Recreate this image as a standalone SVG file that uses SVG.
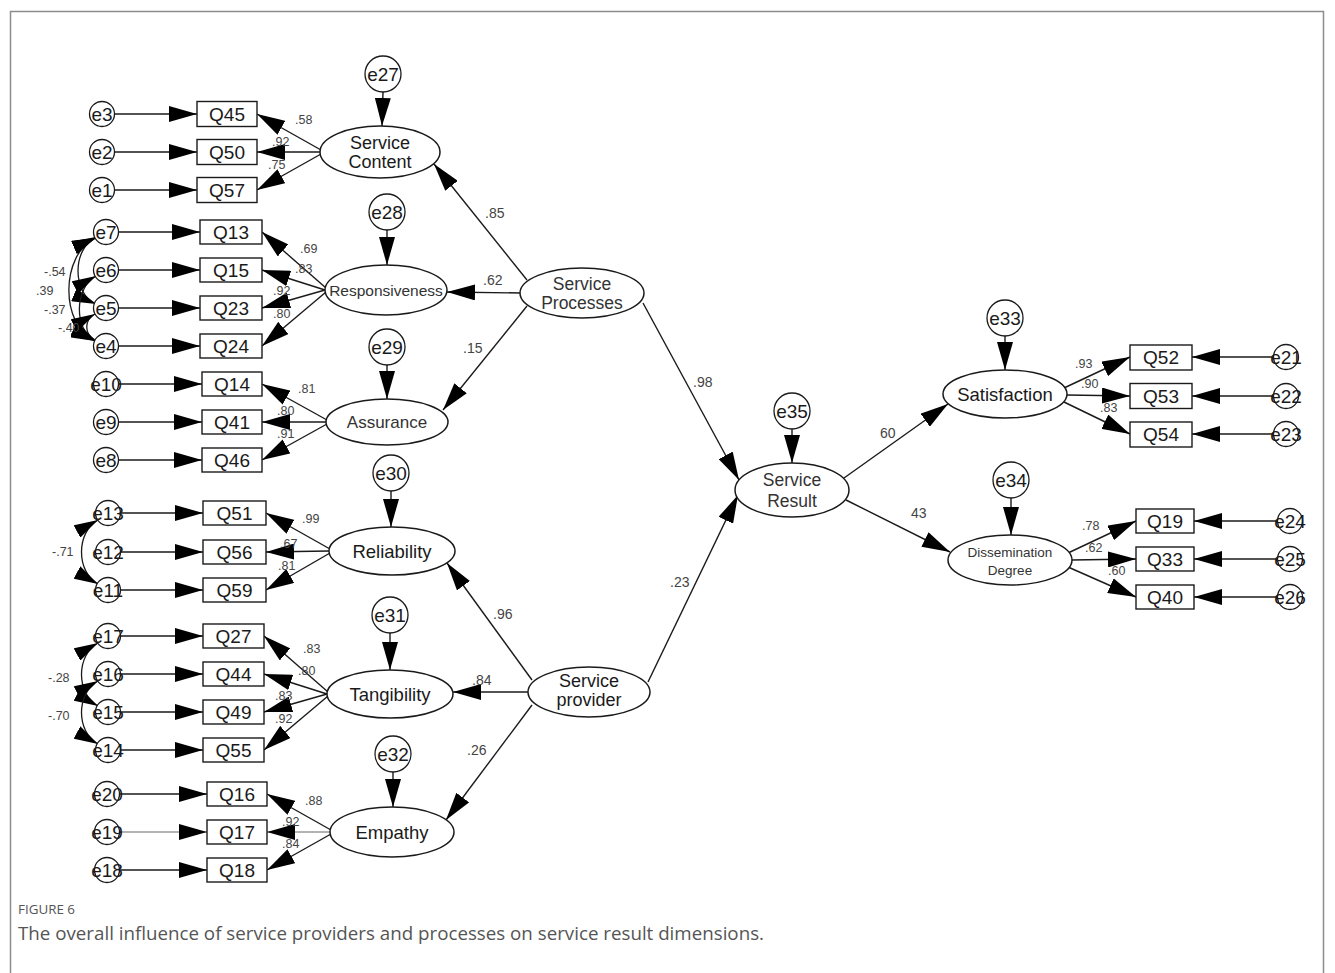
<svg xmlns="http://www.w3.org/2000/svg" width="1335" height="973" viewBox="0 0 1335 973">
<style>
.frame{fill:none;stroke:#8c8c8c;stroke-width:1.5}
.ln{stroke:#1a1a1a;stroke-width:1.4;fill:none;marker-end:url(#ah)}
.lg{stroke:#9a9a9a;stroke-width:1.4;fill:none;marker-end:url(#ah)}
.cov{stroke:#1a1a1a;stroke-width:1.3;fill:none;marker-start:url(#ah2);marker-end:url(#ah2)}
.el{fill:#fff;stroke:#1a1a1a;stroke-width:1.5}
.bx{fill:#fff;stroke:#1a1a1a;stroke-width:1.4}
.ci{fill:#fff;stroke:#1a1a1a;stroke-width:1.3}
.t{font-family:"Liberation Sans",Arial,sans-serif;fill:#1a1a1a;text-anchor:middle}
.bt{font-size:19px}
.et{font-size:19px}
.lt{font-size:18.5px}
.lab{font-family:"Liberation Sans",Arial,sans-serif;font-size:12.5px;fill:#444}
.pl{font-family:"Liberation Sans",Arial,sans-serif;font-size:14px;fill:#444}
.cap1{font-family:"Open Sans",sans-serif;font-size:13px;fill:#555}
.cap2{font-family:"Open Sans",sans-serif;font-size:17.5px;fill:#555}
</style>
<defs>
<marker id="ah" markerUnits="userSpaceOnUse" markerWidth="28" markerHeight="16" refX="28" refY="8" orient="auto"><path d="M0,0 L28,8 L0,16 z" fill="#000"/></marker>
<marker id="ah2" markerUnits="userSpaceOnUse" markerWidth="24" markerHeight="14" refX="24" refY="7" orient="auto-start-reverse"><path d="M0,0 L24,7 L0,14 z" fill="#000"/></marker>
</defs>
<rect width="1335" height="973" fill="#fff"/>
<path class="frame" d="M10.5,980 V11.5 H1323.5 V980"/>

<g id="connectors">
<!-- group 1 -->
<line class="ln" x1="114.5" y1="114" x2="197" y2="114"/>
<line class="ln" x1="114.5" y1="152" x2="197" y2="152"/>
<line class="ln" x1="114.5" y1="190" x2="197" y2="190"/>
<line class="ln" x1="321" y1="150" x2="257" y2="114"/>
<line class="ln" x1="320" y1="152" x2="257" y2="152"/>
<line class="ln" x1="321" y1="154" x2="257" y2="190"/>
<line class="ln" x1="383" y1="92" x2="382" y2="126"/>
<!-- group 2 -->
<line class="ln" x1="118.5" y1="232" x2="200" y2="232"/>
<line class="ln" x1="118.5" y1="270" x2="200" y2="270"/>
<line class="ln" x1="118.5" y1="308" x2="200" y2="308"/>
<line class="ln" x1="118.5" y1="346" x2="200" y2="346"/>
<line class="ln" x1="326" y1="288" x2="262" y2="232"/>
<line class="ln" x1="325" y1="290" x2="262" y2="270"/>
<line class="ln" x1="325" y1="290" x2="262" y2="308"/>
<line class="ln" x1="326" y1="292" x2="262" y2="346"/>
<line class="ln" x1="387" y1="230" x2="387" y2="265"/>
<path class="cov" d="M96,238 C72,248 72,294 96,304"/>
<path class="cov" d="M96,237 C60,255 60,325 95,341"/>
<path class="cov" d="M96,276 C74,288 74,330 95,341"/>
<path class="cov" d="M95,314 C84,320 84,334 95,340"/>
<!-- group 3 -->
<line class="ln" x1="118.5" y1="384" x2="202" y2="384"/>
<line class="ln" x1="118.5" y1="422" x2="202" y2="422"/>
<line class="ln" x1="118.5" y1="460" x2="202" y2="460"/>
<line class="ln" x1="327" y1="420" x2="262" y2="384"/>
<line class="ln" x1="326" y1="422" x2="262" y2="422"/>
<line class="ln" x1="327" y1="424" x2="262" y2="460"/>
<line class="ln" x1="387" y1="365" x2="387" y2="399"/>
<!-- group 4 -->
<line class="ln" x1="120.5" y1="513" x2="203" y2="513"/>
<line class="ln" x1="120.5" y1="552" x2="203" y2="552"/>
<line class="ln" x1="120.5" y1="590" x2="203" y2="590"/>
<line class="ln" x1="330" y1="549" x2="266" y2="513"/>
<line class="ln" x1="329" y1="551" x2="266" y2="552"/>
<line class="ln" x1="330" y1="553" x2="266" y2="590"/>
<line class="ln" x1="391" y1="491" x2="391" y2="527"/>
<path class="cov" d="M98,520 C76,532 76,572 98,584"/>
<!-- group 5 -->
<line class="ln" x1="120.5" y1="636" x2="203" y2="636"/>
<line class="ln" x1="120.5" y1="674" x2="203" y2="674"/>
<line class="ln" x1="120.5" y1="712" x2="203" y2="712"/>
<line class="ln" x1="120.5" y1="750" x2="203" y2="750"/>
<line class="ln" x1="328" y1="692" x2="264" y2="636"/>
<line class="ln" x1="327" y1="694" x2="264" y2="674"/>
<line class="ln" x1="327" y1="694" x2="264" y2="712"/>
<line class="ln" x1="328" y1="696" x2="264" y2="750"/>
<line class="ln" x1="390" y1="633" x2="390" y2="670"/>
<path class="cov" d="M98,643 C76,655 76,694 98,706"/>
<path class="cov" d="M98,681 C76,693 76,732 98,744"/>
<!-- group 6 -->
<line class="ln" x1="119.5" y1="794" x2="207" y2="794"/>
<line class="lg" x1="119.5" y1="832" x2="207" y2="832"/>
<line class="ln" x1="119.5" y1="870" x2="207" y2="870"/>
<line class="ln" x1="331" y1="830" x2="267" y2="794"/>
<line class="lg" x1="330" y1="832" x2="267" y2="832"/>
<line class="ln" x1="331" y1="834" x2="267" y2="870"/>
<line class="ln" x1="393" y1="772" x2="393" y2="807"/>
<!-- structural paths -->
<line class="ln" x1="527" y1="280" x2="434" y2="164"/>
<line class="ln" x1="521" y1="293" x2="447" y2="292"/>
<line class="ln" x1="527" y1="306" x2="443" y2="410"/>
<line class="ln" x1="643" y1="303" x2="739" y2="480"/>
<line class="ln" x1="532" y1="680" x2="447" y2="563"/>
<line class="ln" x1="528" y1="692" x2="453" y2="692"/>
<line class="ln" x1="532" y1="705" x2="446" y2="820"/>
<line class="ln" x1="648" y1="682" x2="738" y2="495"/>
<line class="ln" x1="844" y1="478" x2="948" y2="404"/>
<line class="ln" x1="846" y1="500" x2="950" y2="552"/>
<line class="ln" x1="792" y1="429" x2="792" y2="463"/>
<!-- satisfaction -->
<line class="ln" x1="1005" y1="336" x2="1005" y2="370"/>
<line class="ln" x1="1064" y1="388" x2="1130" y2="357"/>
<line class="ln" x1="1067" y1="395" x2="1130" y2="396"/>
<line class="ln" x1="1064" y1="402" x2="1130" y2="434"/>
<line class="ln" x1="1273.5" y1="357" x2="1192" y2="357"/>
<line class="ln" x1="1273.5" y1="396" x2="1192" y2="396"/>
<line class="ln" x1="1273.5" y1="434" x2="1192" y2="434"/>
<!-- dissemination -->
<line class="ln" x1="1011" y1="498" x2="1011" y2="535"/>
<line class="ln" x1="1068" y1="553" x2="1136" y2="521"/>
<line class="ln" x1="1072" y1="560" x2="1136" y2="559"/>
<line class="ln" x1="1068" y1="567" x2="1136" y2="597"/>
<line class="ln" x1="1277.5" y1="521" x2="1194" y2="521"/>
<line class="ln" x1="1277.5" y1="559" x2="1194" y2="559"/>
<line class="ln" x1="1277.5" y1="597" x2="1194" y2="597"/>
</g>

<g id="labels">
<text class="lab" x="295" y="124">.58</text>
<text class="lab" x="272" y="146">.92</text>
<text class="lab" x="268" y="169">.75</text>
<text class="lab" x="300" y="253">.69</text>
<text class="lab" x="295" y="273">.83</text>
<text class="lab" x="273" y="295">.92</text>
<text class="lab" x="273" y="318">.80</text>
<text class="lab" x="44" y="276">-.54</text>
<text class="lab" x="36" y="295">.39</text>
<text class="lab" x="44" y="314">-.37</text>
<text class="lab" x="58" y="332">-.40</text>
<text class="lab" x="298" y="393">.81</text>
<text class="lab" x="277" y="415">.80</text>
<text class="lab" x="277" y="438">.91</text>
<text class="lab" x="302" y="523">.99</text>
<text class="lab" x="280" y="548">.67</text>
<text class="lab" x="278" y="570">.81</text>
<text class="lab" x="52" y="556">-.71</text>
<text class="lab" x="303" y="653">.83</text>
<text class="lab" x="298" y="675">.80</text>
<text class="lab" x="275" y="700">.83</text>
<text class="lab" x="275" y="723">.92</text>
<text class="lab" x="48" y="682">-.28</text>
<text class="lab" x="48" y="720">-.70</text>
<text class="lab" x="305" y="805">.88</text>
<text class="lab" x="282" y="826">.92</text>
<text class="lab" x="282" y="848">.84</text>
<text class="pl" x="485" y="218">.85</text>
<text class="pl" x="483" y="285">.62</text>
<text class="pl" x="463" y="353">.15</text>
<text class="pl" x="693" y="387">.98</text>
<text class="pl" x="493" y="619">.96</text>
<text class="pl" x="472" y="685">.84</text>
<text class="pl" x="467" y="755">.26</text>
<text class="pl" x="670" y="587">.23</text>
<text class="pl" x="880" y="438">60</text>
<text class="pl" x="911" y="518">43</text>
<text class="lab" x="1075" y="368">.93</text>
<text class="lab" x="1081" y="388">.90</text>
<text class="lab" x="1100" y="412">.83</text>
<text class="lab" x="1082" y="530">.78</text>
<text class="lab" x="1085" y="552">.62</text>
<text class="lab" x="1108" y="575">.60</text>
</g>

<!-- Service Content group -->
<g id="e3"><circle class="ci" cx="102" cy="114" r="12.5"/><text class="t et" x="102" y="121">e3</text></g>
<g id="e2"><circle class="ci" cx="102" cy="152" r="12.5"/><text class="t et" x="102" y="159">e2</text></g>
<g id="e1"><circle class="ci" cx="102" cy="190" r="12.5"/><text class="t et" x="102" y="197">e1</text></g>
<g id="Q45"><rect class="bx" x="197" y="101.5" width="60" height="25"/><text class="t bt" x="227" y="121">Q45</text></g>
<g id="Q50"><rect class="bx" x="197" y="139.5" width="60" height="25"/><text class="t bt" x="227" y="159">Q50</text></g>
<g id="Q57"><rect class="bx" x="197" y="177.5" width="60" height="25"/><text class="t bt" x="227" y="197">Q57</text></g>
<g id="e27"><circle class="ci" cx="383" cy="74" r="18"/><text class="t et" x="383" y="81">e27</text></g>
<g id="ServiceContent"><ellipse class="el" cx="380" cy="152" rx="60" ry="26"/><text class="t" style="font-size:18px" x="380" y="149">Service</text><text class="t" style="font-size:18px" x="380" y="168">Content</text></g>

<!-- Responsiveness group -->
<g id="e7"><circle class="ci" cx="106" cy="232" r="12.5"/><text class="t et" x="106" y="239">e7</text></g>
<g id="e6"><circle class="ci" cx="106" cy="270" r="12.5"/><text class="t et" x="106" y="277">e6</text></g>
<g id="e5"><circle class="ci" cx="106" cy="308" r="12.5"/><text class="t et" x="106" y="315">e5</text></g>
<g id="e4"><circle class="ci" cx="106" cy="346" r="12.5"/><text class="t et" x="106" y="353">e4</text></g>
<g id="Q13"><rect class="bx" x="200" y="220" width="62" height="24"/><text class="t bt" x="231" y="239">Q13</text></g>
<g id="Q15"><rect class="bx" x="200" y="258" width="62" height="24"/><text class="t bt" x="231" y="277">Q15</text></g>
<g id="Q23"><rect class="bx" x="200" y="296" width="62" height="24"/><text class="t bt" x="231" y="315">Q23</text></g>
<g id="Q24"><rect class="bx" x="200" y="334" width="62" height="24"/><text class="t bt" x="231" y="353">Q24</text></g>
<g id="e28"><circle class="ci" cx="387" cy="212" r="18"/><text class="t et" x="387" y="219">e28</text></g>
<g id="Responsiveness"><ellipse class="el" cx="386" cy="290" rx="61" ry="25"/><text class="t" style="font-size:15.5px;fill:#333" x="386" y="296">Responsiveness</text></g>

<!-- Assurance group -->
<g id="e10"><circle class="ci" cx="106" cy="384" r="12.5"/><text class="t et" x="106" y="391">e10</text></g>
<g id="e9"><circle class="ci" cx="106" cy="422" r="12.5"/><text class="t et" x="106" y="429">e9</text></g>
<g id="e8"><circle class="ci" cx="106" cy="460" r="12.5"/><text class="t et" x="106" y="467">e8</text></g>
<g id="Q14"><rect class="bx" x="202" y="372" width="60" height="24"/><text class="t bt" x="232" y="391">Q14</text></g>
<g id="Q41"><rect class="bx" x="202" y="410" width="60" height="24"/><text class="t bt" x="232" y="429">Q41</text></g>
<g id="Q46"><rect class="bx" x="202" y="448" width="60" height="24"/><text class="t bt" x="232" y="467">Q46</text></g>
<g id="e29"><circle class="ci" cx="387" cy="347" r="18"/><text class="t et" x="387" y="354">e29</text></g>
<g id="Assurance"><ellipse class="el" cx="387" cy="422" rx="61" ry="23"/><text class="t" style="font-size:17px;fill:#333" x="387" y="428">Assurance</text></g>

<!-- Reliability group -->
<g id="e13"><circle class="ci" cx="108" cy="513" r="12.5"/><text class="t et" x="108" y="520">e13</text></g>
<g id="e12"><circle class="ci" cx="108" cy="552" r="12.5"/><text class="t et" x="108" y="559">e12</text></g>
<g id="e11"><circle class="ci" cx="108" cy="590" r="12.5"/><text class="t et" x="108" y="597">e11</text></g>
<g id="Q51"><rect class="bx" x="203" y="501" width="63" height="24"/><text class="t bt" x="234.5" y="520">Q51</text></g>
<g id="Q56"><rect class="bx" x="203" y="540" width="63" height="24"/><text class="t bt" x="234.5" y="559">Q56</text></g>
<g id="Q59"><rect class="bx" x="203" y="578" width="63" height="24"/><text class="t bt" x="234.5" y="597">Q59</text></g>
<g id="e30"><circle class="ci" cx="391" cy="473" r="18"/><text class="t et" x="391" y="480">e30</text></g>
<g id="Reliability"><ellipse class="el" cx="392" cy="551" rx="63" ry="24"/><text class="t lt" x="392" y="558">Reliability</text></g>

<!-- Tangibility group -->
<g id="e17"><circle class="ci" cx="108" cy="636" r="12.5"/><text class="t et" x="108" y="643">e17</text></g>
<g id="e16"><circle class="ci" cx="108" cy="674" r="12.5"/><text class="t et" x="108" y="681">e16</text></g>
<g id="e15"><circle class="ci" cx="108" cy="712" r="12.5"/><text class="t et" x="108" y="719">e15</text></g>
<g id="e14"><circle class="ci" cx="108" cy="750" r="12.5"/><text class="t et" x="108" y="757">e14</text></g>
<g id="Q27"><rect class="bx" x="203" y="624" width="61" height="24"/><text class="t bt" x="233.5" y="643">Q27</text></g>
<g id="Q44"><rect class="bx" x="203" y="662" width="61" height="24"/><text class="t bt" x="233.5" y="681">Q44</text></g>
<g id="Q49"><rect class="bx" x="203" y="700" width="61" height="24"/><text class="t bt" x="233.5" y="719">Q49</text></g>
<g id="Q55"><rect class="bx" x="203" y="738" width="61" height="24"/><text class="t bt" x="233.5" y="757">Q55</text></g>
<g id="e31"><circle class="ci" cx="390" cy="615" r="18"/><text class="t et" x="390" y="622">e31</text></g>
<g id="Tangibility"><ellipse class="el" cx="390" cy="694" rx="63" ry="24"/><text class="t lt" x="390" y="701">Tangibility</text></g>

<!-- Empathy group -->
<g id="e20"><circle class="ci" cx="107" cy="794" r="12.5"/><text class="t et" x="107" y="801">e20</text></g>
<g id="e19"><circle class="ci" cx="107" cy="832" r="12.5"/><text class="t et" x="107" y="839">e19</text></g>
<g id="e18"><circle class="ci" cx="107" cy="870" r="12.5"/><text class="t et" x="107" y="877">e18</text></g>
<g id="Q16"><rect class="bx" x="207" y="782" width="60" height="24"/><text class="t bt" x="237" y="801">Q16</text></g>
<g id="Q17"><rect class="bx" x="207" y="820" width="60" height="24"/><text class="t bt" x="237" y="839">Q17</text></g>
<g id="Q18"><rect class="bx" x="207" y="858" width="60" height="24"/><text class="t bt" x="237" y="877">Q18</text></g>
<g id="e32"><circle class="ci" cx="393" cy="754" r="18"/><text class="t et" x="393" y="761">e32</text></g>
<g id="Empathy"><ellipse class="el" cx="392" cy="832" rx="62" ry="25"/><text class="t lt" x="392" y="839">Empathy</text></g>

<!-- Exogenous -->
<g id="ServiceProcesses"><ellipse class="el" cx="582" cy="293" rx="62" ry="25"/><text class="t" style="font-size:17.5px;fill:#333" x="582" y="290">Service</text><text class="t" style="font-size:17.5px;fill:#333" x="582" y="309">Processes</text></g>
<g id="ServiceProvider"><ellipse class="el" cx="589" cy="692" rx="61" ry="25"/><text class="t" style="font-size:18px" x="589" y="687">Service</text><text class="t" style="font-size:18px" x="589" y="706">provider</text></g>

<!-- Service Result -->
<g id="e35"><circle class="ci" cx="792" cy="411" r="18"/><text class="t et" x="792" y="418">e35</text></g>
<g id="ServiceResult"><ellipse class="el" cx="792" cy="490" rx="57" ry="27"/><text class="t" style="font-size:17.5px;fill:#333" x="792" y="486">Service</text><text class="t" style="font-size:17.5px;fill:#333" x="792" y="507">Result</text></g>

<!-- Satisfaction -->
<g id="e33"><circle class="ci" cx="1005" cy="318" r="18"/><text class="t et" x="1005" y="325">e33</text></g>
<g id="Satisfaction"><ellipse class="el" cx="1005" cy="394" rx="62" ry="24"/><text class="t lt" x="1005" y="401">Satisfaction</text></g>
<g id="Q52"><rect class="bx" x="1130" y="345" width="62" height="25"/><text class="t bt" x="1161" y="364">Q52</text></g>
<g id="Q53"><rect class="bx" x="1130" y="383.5" width="62" height="25"/><text class="t bt" x="1161" y="403">Q53</text></g>
<g id="Q54"><rect class="bx" x="1130" y="422" width="62" height="25"/><text class="t bt" x="1161" y="441">Q54</text></g>
<g id="e21"><circle class="ci" cx="1286" cy="357" r="12.5"/><text class="t et" x="1286" y="364">e21</text></g>
<g id="e22"><circle class="ci" cx="1286" cy="396" r="12.5"/><text class="t et" x="1286" y="403">e22</text></g>
<g id="e23"><circle class="ci" cx="1286" cy="434" r="12.5"/><text class="t et" x="1286" y="441">e23</text></g>

<!-- Dissemination -->
<g id="e34"><circle class="ci" cx="1011" cy="480" r="18"/><text class="t et" x="1011" y="487">e34</text></g>
<g id="DisseminationDegree"><ellipse class="el" cx="1010" cy="560" rx="62" ry="25"/><text class="t" style="font-size:13.5px;fill:#333" x="1010" y="557">Dissemination</text><text class="t" style="font-size:13.5px;fill:#333" x="1010" y="575">Degree</text></g>
<g id="Q19"><rect class="bx" x="1136" y="509" width="58" height="24"/><text class="t bt" x="1165" y="528">Q19</text></g>
<g id="Q33"><rect class="bx" x="1136" y="547" width="58" height="24"/><text class="t bt" x="1165" y="566">Q33</text></g>
<g id="Q40"><rect class="bx" x="1136" y="585" width="58" height="24"/><text class="t bt" x="1165" y="604">Q40</text></g>
<g id="e24"><circle class="ci" cx="1290" cy="521" r="12.5"/><text class="t et" x="1290" y="528">e24</text></g>
<g id="e25"><circle class="ci" cx="1290" cy="559" r="12.5"/><text class="t et" x="1290" y="566">e25</text></g>
<g id="e26"><circle class="ci" cx="1290" cy="597" r="12.5"/><text class="t et" x="1290" y="604">e26</text></g>

<g id="caption">
<text class="cap1" x="18" y="914" textLength="57" lengthAdjust="spacingAndGlyphs">FIGURE 6</text>
<text class="cap2" x="18" y="940" textLength="746" lengthAdjust="spacingAndGlyphs">The overall influence of service providers and processes on service result dimensions.</text>
</g>
</svg>
